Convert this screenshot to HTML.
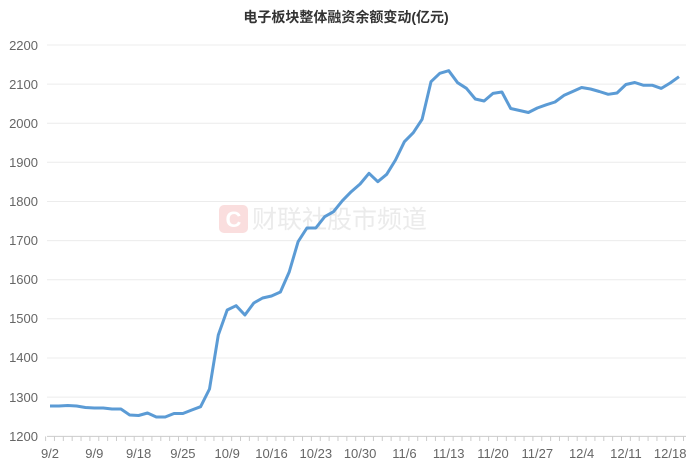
<!DOCTYPE html>
<html><head><meta charset="utf-8"><style>
html,body{margin:0;padding:0;background:#fff;}
svg{display:block;font-family:"Liberation Sans","Noto Sans CJK SC",sans-serif;}
</style></head><body>
<svg width="692" height="471" viewBox="0 0 692 471" xmlns="http://www.w3.org/2000/svg">
<text x="346" y="22" text-anchor="middle" font-size="14" font-weight="bold" fill="#333">电子板块整体融资余额变动(亿元)</text>
<g stroke="#ececec" stroke-width="1">
<line x1="47" y1="45" x2="686" y2="45"/><line x1="47" y1="84.1" x2="686" y2="84.1"/>
<line x1="47" y1="123.2" x2="686" y2="123.2"/><line x1="47" y1="162.3" x2="686" y2="162.3"/>
<line x1="47" y1="201.5" x2="686" y2="201.5"/><line x1="47" y1="240.6" x2="686" y2="240.6"/>
<line x1="47" y1="279.7" x2="686" y2="279.7"/><line x1="47" y1="318.8" x2="686" y2="318.8"/>
<line x1="47" y1="358" x2="686" y2="358"/><line x1="47" y1="397.1" x2="686" y2="397.1"/>
</g>
<line x1="47" y1="436.4" x2="686" y2="436.4" stroke="#ccc"/>
<g font-size="13" fill="#666" text-anchor="end">
<text x="38" y="50">2200</text><text x="38" y="89">2100</text><text x="38" y="128">2000</text>
<text x="38" y="167">1900</text><text x="38" y="206">1800</text><text x="38" y="245">1700</text>
<text x="38" y="284">1600</text><text x="38" y="323">1500</text><text x="38" y="362">1400</text>
<text x="38" y="402">1300</text><text x="38" y="441">1200</text>
</g>
<g id="ticks" stroke="#ccc"></g>
<g font-size="13" fill="#666" text-anchor="middle">
<text x="50" y="458">9/2</text><text x="94.3" y="458">9/9</text><text x="138.6" y="458">9/18</text>
<text x="182.9" y="458">9/25</text><text x="227.2" y="458">10/9</text><text x="271.5" y="458">10/16</text>
<text x="315.8" y="458">10/23</text><text x="360.1" y="458">10/30</text><text x="404.4" y="458">11/6</text>
<text x="448.7" y="458">11/13</text><text x="493" y="458">11/20</text><text x="537.3" y="458">11/27</text>
<text x="581.6" y="458">12/4</text><text x="625.9" y="458">12/11</text><text x="670.2" y="458">12/18</text>
</g>
<rect x="219" y="205" width="29" height="28" rx="5" fill="#fadede"/>
<text x="233.5" y="227" text-anchor="middle" font-size="22" font-weight="bold" fill="#fff">C</text>
<text x="252" y="228" font-size="25" fill="#ebebeb">财联社股市频道</text>
<polyline fill="none" stroke="#5b9bd5" stroke-width="3" stroke-linejoin="round" points="
50,406 58.9,406 67.7,405.5 76.6,406 85.4,407.5 94.3,408 103.2,408 112,409 120.9,409 129.7,415 138.6,415.5 147.5,413 156.3,417 165.2,417 174,413.5 182.9,413.5 191.8,410 200.6,406.7 209.5,389 218.3,335 227.2,310 236.1,305.7 244.9,315 253.8,303 262.6,298 271.5,296 280.4,292 289.2,272 298.1,241.7 306.9,228 315.8,228 324.7,216.7 333.5,211.7 342.4,200.7 351.2,191.7 360.1,184 369,173.3 377.8,181.7 386.7,174.3 395.5,160 404.4,141.7 413.3,132.7 422.1,119.3 431,81.7 439.8,73.3 448.7,70.7 457.6,82.7 466.4,88.3 475.3,99 484.1,101 493,93.4 501.9,92 510.7,108.5 519.6,110.5 528.4,112.5 537.3,108 546.2,104.8 555,102 563.9,95.4 572.7,91.5 581.6,87.5 590.5,89 599.3,91.5 608.2,94.3 617,93 625.9,84.5 634.8,82.5 643.6,85.3 652.5,85.3 661.3,88.4 670.2,83 679,76.7"/>
</svg>
<script>
var g=document.getElementById('ticks'),s='';
for(var k=0;k<=72;k++){var x=45.6+8.86*k;if(x>687)break;s+='<line x1="'+x+'" y1="436.4" x2="'+x+'" y2="441"/>';}
g.innerHTML=s;
</script>
</body></html>
